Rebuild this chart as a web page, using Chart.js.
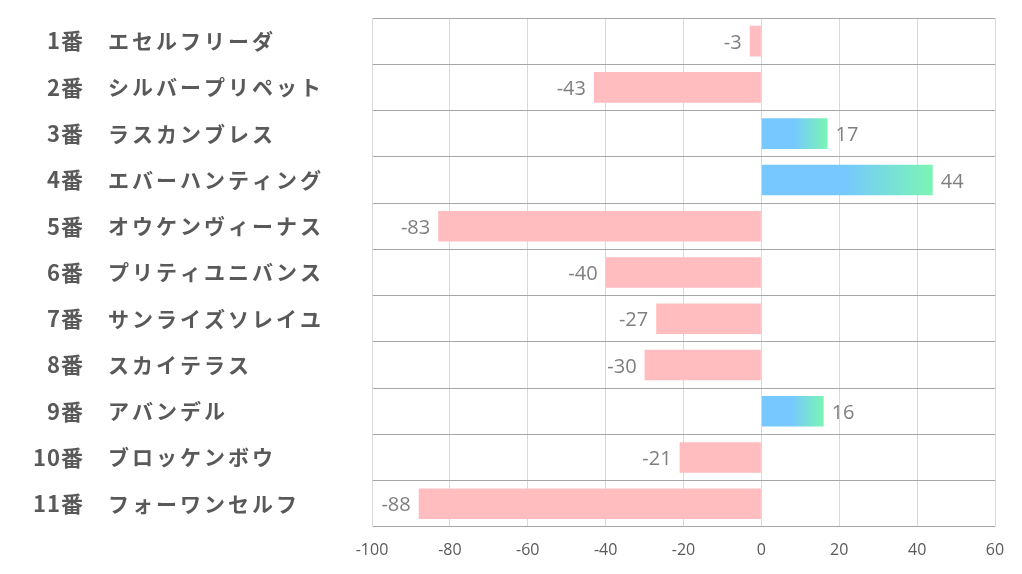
<!DOCTYPE html>
<html>
<head>
<meta charset="utf-8">
<script src="https://cdn.jsdelivr.net/npm/chart.js@4"></script>
<style>
  html, body { margin: 0; padding: 0; background: #fff; }
  #wrap { width: 1022px; height: 574px; }
</style>
</head>
<body>
<div id="wrap"><canvas id="viz"></canvas></div>
<script>
var numbers = ["1番", "2番", "3番", "4番", "5番", "6番", "7番", "8番", "9番", "10番", "11番"];
var names = ["エセルフリーダ", "シルバープリペット", "ラスカンブレス", "エバーハンティング", "オウケンヴィーナス",
    "プリティユニバンス", "サンライズソレイユ", "スカイテラス", "アバンデル", "ブロッケンボウ", "フォーワンセルフ"];
var values = [-3, -43, 17, 44, -83, -40, -27, -30, 16, -21, -88];
var xTicks = [-100, -80, -60, -40, -20, 0, 20, 40, 60];

var pink = '#ffbdbf';
var blue = '#76c8ff';
var green = '#7af5b4';
var textGray = '#595959';
var labelFont = '"Noto Sans CJK JP", "Noto Sans", sans-serif';
var numFont = '"Liberation Sans Narrow", "Open Sans", "Noto Sans", sans-serif';

function barColor(c) {
    var v = c.raw;
    if (v < 0) return pink;
    var chart = c.chart;
    if (!chart.chartArea) return blue;
    var x0 = chart.scales.x.getPixelForValue(0);
    var x1 = chart.scales.x.getPixelForValue(v);
    var g = chart.ctx.createLinearGradient(x0, 0, x1, 0);
    g.addColorStop(0, blue);
    g.addColorStop(0.48, blue);
    g.addColorStop(1, green);
    return g;
}

// row labels: number right-aligned, name left-aligned
var rowLabels = {
    id: 'rowLabels',
    afterDraw: function(chart) {
        var ctx = chart.ctx;
        var y = chart.scales.y;
        ctx.save();
        ctx.fillStyle = textGray;
        ctx.textBaseline = 'middle';
        numbers.forEach(function(n, i) {
            var py = y.getPixelForValue(i);
            try { ctx.letterSpacing = '1px'; } catch (e) {}
            ctx.font = 'bold 22px ' + labelFont;
            ctx.textAlign = 'right';
            ctx.fillText(n, 84, py);
            try { ctx.letterSpacing = '3px'; } catch (e) {}
            ctx.font = 'bold 21px ' + labelFont;
            ctx.textAlign = 'left';
            ctx.fillText(names[i], 108, py);
        });
        ctx.restore();
    }
};

// value labels at bar ends
var valueLabels = {
    id: 'valueLabels',
    afterDatasetsDraw: function(chart) {
        var ctx = chart.ctx;
        var meta = chart.getDatasetMeta(0);
        ctx.save();
        ctx.fillStyle = '#7f7f7f';
        ctx.font = '20px ' + numFont;
        ctx.textBaseline = 'middle';
        meta.data.forEach(function(bar, i) {
            var v = values[i];
            if (v < 0) {
                ctx.textAlign = 'right';
                ctx.fillText(String(v), bar.x - 8, bar.y + 2);
            } else {
                ctx.textAlign = 'left';
                ctx.fillText(String(v), bar.x + 8, bar.y + 2);
            }
        });
        ctx.restore();
    }
};

var ctxV = document.getElementById('viz').getContext('2d');

var chart = new Chart(ctxV, {
    type: 'bar',
    data: {
        labels: names,
        datasets: [{
            data: values,
            backgroundColor: barColor,
            borderWidth: 0,
            barPercentage: 0.66,
            categoryPercentage: 1
        }]
    },
    options: {
        indexAxis: 'y',
        responsive: true,
        maintainAspectRatio: false,
        animation: false,
        layout: {
            padding: { left: 372, right: 27, top: 18, bottom: 0 }
        },
        plugins: {
            legend: { display: false },
            tooltip: { enabled: false }
        },
        scales: {
            x: {
                min: -100,
                max: 60,
                afterBuildTicks: function(scale) {
                    scale.ticks = xTicks.map(function(v) { return { value: v }; });
                },
                grid: { color: '#d9d9d9', lineWidth: 1, drawTicks: false },
                border: { display: false },
                ticks: {
                    color: textGray,
                    font: { family: numFont, size: 16 },
                    padding: 14,
                    maxRotation: 0
                }
            },
            y: {
                grid: { color: '#a6a6a6', lineWidth: 1, drawTicks: false, offset: true },
                border: { display: true, color: '#d9d9d9' },
                ticks: { display: false },
                afterFit: function(scale) { scale.width = 0; }
            }
        }
    },
    plugins: [rowLabels, valueLabels]
});
</script>
</body>
</html>
